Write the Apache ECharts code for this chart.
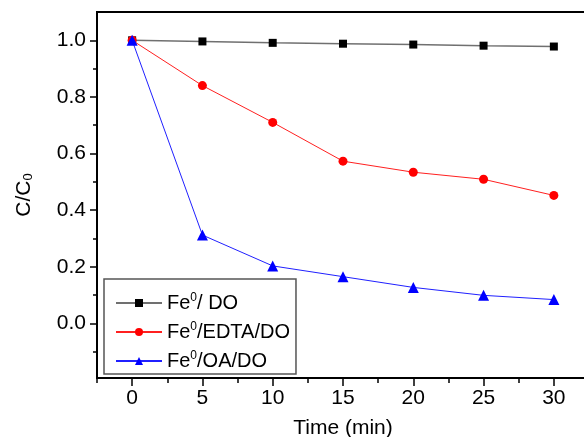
<!DOCTYPE html>
<html>
<head>
<meta charset="utf-8">
<script src="https://cdn.jsdelivr.net/npm/echarts@6/dist/echarts.min.js"></script>
<style>
  html, body { margin: 0; padding: 0; background: #fff; }
  #main { width: 584px; height: 437px; }
</style>
</head>
<body>
<div id="main"></div>
<script>
// data
var times = [0, 5, 10, 15, 20, 25, 30];
var feDO = [1.0, 0.996, 0.991, 0.988, 0.985, 0.981, 0.978];
var feEDTA = [1.0, 0.840, 0.710, 0.573, 0.534, 0.509, 0.452];
var feOA = [1.0, 0.312, 0.203, 0.165, 0.127, 0.099, 0.084];

var xMajor = [0, 5, 10, 15, 20, 25, 30];
var xMinor = [-2.5, 2.5, 7.5, 12.5, 17.5, 22.5, 27.5, 32.5];
var yMajor = [0, 0.2, 0.4, 0.6, 0.8, 1.0];
var yMinor = [-0.1, 0.1, 0.3, 0.5, 0.7, 0.9];

var seriesNames = ['Fe0/ DO', 'Fe0/EDTA/DO', 'Fe0/OA/DO'];
var legendLabels = {
  'Fe0/ DO': '{n|Fe}{s|0}{n|/ DO}',
  'Fe0/EDTA/DO': '{n|Fe}{s|0}{n|/EDTA/DO}',
  'Fe0/OA/DO': '{n|Fe}{s|0}{n|/OA/DO}'
};

var font = 'Liberation Sans, Arial, sans-serif';

function pairs(ys) {
  return times.map(function (t, i) { return [t, ys[i]]; });
}

var myChart = echarts.init(document.getElementById('main'));

var option = {
  animation: false,
  backgroundColor: '#fff',
  grid: {
    left: 97, top: 12, width: 492, height: 366,
    outerBoundsMode: 'none',
    show: true, borderColor: '#000', borderWidth: 2
  },
  xAxis: [
    {
      type: 'value', min: -2.5, max: 32.5,
      name: 'Time (min)', nameLocation: 'middle', nameGap: 40,
      nameTextStyle: { fontFamily: font, fontSize: 21, color: '#000' },
      axisLine: { onZero: false, lineStyle: { color: '#000', width: 2 } },
      axisTick: { customValues: xMajor, length: 8, lineStyle: { color: '#000', width: 1.5 } },
      axisLabel: {
        customValues: xMajor, margin: 10,
        fontFamily: font, fontSize: 21, color: '#000'
      },
      splitLine: { show: false }
    },
    {
      type: 'value', min: -2.5, max: 32.5, position: 'bottom',
      axisLine: { show: false, onZero: false },
      axisTick: { customValues: xMinor, length: 5, lineStyle: { color: '#000', width: 1.5 } },
      axisLabel: { show: false },
      splitLine: { show: false }
    }
  ],
  yAxis: [
    {
      type: 'value', min: -0.193, max: 1.1,
      name: '{n|C/C}{s|0}', nameLocation: 'middle', nameGap: 62, nameRotate: 90,
      nameTextStyle: {
        color: '#000',
        rich: {
          n: { fontFamily: font, fontSize: 21, color: '#000' },
          s: { fontFamily: font, fontSize: 13, color: '#000', padding: [9, 0, 0, 0] }
        }
      },
      axisLine: { onZero: false, lineStyle: { color: '#000', width: 2 } },
      axisTick: { customValues: yMajor, length: 7, lineStyle: { color: '#000', width: 1.5 } },
      axisLabel: {
        customValues: yMajor, margin: 11,
        fontFamily: font, fontSize: 21, color: '#000',
        formatter: function (v) { return v.toFixed(1); }
      },
      splitLine: { show: false }
    },
    {
      type: 'value', min: -0.193, max: 1.1, position: 'left',
      axisLine: { show: false, onZero: false },
      axisTick: { customValues: yMinor, length: 4, lineStyle: { color: '#000', width: 1.5 } },
      axisLabel: { show: false },
      splitLine: { show: false }
    }
  ],
  legend: {
    orient: 'vertical',
    left: 104, top: 279,
    padding: [13, 6, 3, 11],
    itemWidth: 46, itemHeight: 10, itemGap: 8,
    borderColor: '#555', borderWidth: 1.5,
    data: seriesNames,
    formatter: function (name) { return legendLabels[name]; },
    textStyle: {
      rich: {
        n: { fontFamily: font, fontSize: 20, color: '#000' },
        s: { fontFamily: font, fontSize: 12, color: '#000', padding: [0, 0, 10, 0] }
      }
    }
  },
  series: [
    {
      name: seriesNames[0], type: 'line', data: pairs(feDO),
      symbol: 'rect', symbolSize: 8,
      itemStyle: { color: '#000' },
      lineStyle: { color: '#707070', width: 1.5 }
    },
    {
      name: seriesNames[1], type: 'line', data: pairs(feEDTA),
      symbol: 'circle', symbolSize: 9,
      itemStyle: { color: '#ff0000' },
      lineStyle: { color: '#ff2020', width: 1 }
    },
    {
      name: seriesNames[2], type: 'line', data: pairs(feOA),
      symbol: 'triangle', symbolSize: 11,
      itemStyle: { color: '#0000ff' },
      lineStyle: { color: '#2020ff', width: 1 }
    }
  ]
};

myChart.setOption(option);
</script>
</body>
</html>
